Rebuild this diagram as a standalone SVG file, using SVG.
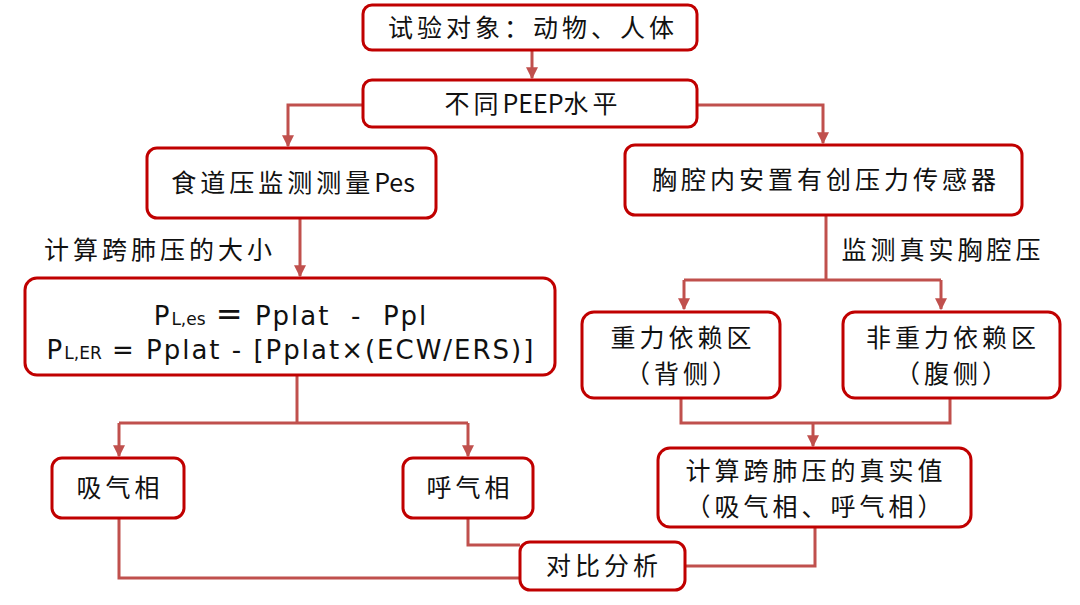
<svg xmlns="http://www.w3.org/2000/svg" width="1080" height="605" viewBox="0 0 1080 605">
<defs>
<style>
.box{fill:#fff;stroke:#C00000;stroke-width:3}
.ln{fill:none;stroke:#C0504D;stroke-width:3}
.t{font-family:"Noto Sans CJK SC","Noto Sans",sans-serif;font-size:25px;fill:#111;text-anchor:middle;letter-spacing:4px}
.lat{letter-spacing:0}
.f{font-family:"DejaVu Sans","Noto Sans CJK SC",sans-serif;font-size:26px;fill:#111;text-anchor:middle;letter-spacing:2px}
</style>
<marker id="ah" viewBox="0 0 10 10" refX="9" refY="5" markerWidth="4" markerHeight="4" orient="auto"><path d="M0,0 L10,5 L0,10 z" fill="#C0504D"/></marker>
</defs>
<rect width="1080" height="605" fill="#fff"/>
<g id="connectors">
<path class="ln" d="M532,51 V78" marker-end="url(#ah)"/>
<path class="ln" d="M363,105 H288 V146" marker-end="url(#ah)"/>
<path class="ln" d="M697,105 H823 V143" marker-end="url(#ah)"/>
<path class="ln" d="M300,219 V276" marker-end="url(#ah)"/>
<path class="ln" d="M826,216 V280"/>
<path class="ln" d="M684,280 H941"/>
<path class="ln" d="M684,280 V309" marker-end="url(#ah)"/>
<path class="ln" d="M941,280 V309" marker-end="url(#ah)"/>
<path class="ln" d="M681,399 V423 H950 V399"/>
<path class="ln" d="M813,423 V446" marker-end="url(#ah)"/>
<path class="ln" d="M297,376 V423"/>
<path class="ln" d="M119,423 H468"/>
<path class="ln" d="M119,423 V456" marker-end="url(#ah)"/>
<path class="ln" d="M468,423 V456" marker-end="url(#ah)"/>
<path class="ln" d="M119,519 V578 H520"/>
<path class="ln" d="M468,519 V545 H520"/>
<path class="ln" d="M815,528 V566 H686"/>
</g>
<g id="n1"><rect class="box" x="363" y="5" width="334" height="45" rx="9"/><text class="t" x="533" y="37">试验对象：动物、人体</text></g>
<g id="n2"><rect class="box" x="363" y="80" width="334" height="47" rx="9"/><text class="t" x="533" y="113">不同<tspan class="lat">PEEP</tspan>水平</text></g>
<g id="n3"><rect class="box" x="147" y="148" width="289" height="70" rx="10"/><text class="t" x="293" y="192">食道压监测测量<tspan class="lat">Pes</tspan></text></g>
<g id="n4"><rect class="box" x="625" y="145" width="397" height="70" rx="10"/><text class="t" x="826" y="189">胸腔内安置有创压力传感器</text></g>
<text class="t" x="160" y="259">计算跨肺压的大小</text>
<text class="t" x="943" y="259">监测真实胸腔压</text>
<g id="n5"><rect class="box" x="25" y="278" width="530" height="97" rx="12"/>
<text class="f" x="291" y="325" xml:space="preserve">P<tspan font-size="17" letter-spacing="0">L,es</tspan> <tspan font-size="32">=</tspan> Pplat  -  Ppl</text>
<text class="f" x="291" y="359">P<tspan font-size="17" letter-spacing="0">L,ER</tspan> = Pplat - [Pplat×(ECW/ERS)]</text></g>
<g id="n6"><rect class="box" x="582" y="312" width="198" height="86" rx="12"/><text class="t" x="683" y="347">重力依赖区</text><text class="t" x="683" y="383">（背侧）</text></g>
<g id="n7"><rect class="box" x="843" y="312" width="217" height="86" rx="12"/><text class="t" x="953" y="347">非重力依赖区</text><text class="t" x="953" y="383">（腹侧）</text></g>
<g id="n8"><rect class="box" x="658" y="448" width="313" height="79" rx="12"/><text class="t" x="816" y="480">计算跨肺压的真实值</text><text class="t" x="816" y="516">（吸气相、呼气相）</text></g>
<g id="n9"><rect class="box" x="52" y="458" width="132" height="60" rx="10"/><text class="t" x="120" y="497">吸气相</text></g>
<g id="n10"><rect class="box" x="403" y="458" width="130" height="60" rx="10"/><text class="t" x="470" y="497">呼气相</text></g>
<g id="n11"><rect class="box" x="520" y="542" width="165" height="48" rx="10"/><text class="t" x="604" y="575">对比分析</text></g>
</svg>
